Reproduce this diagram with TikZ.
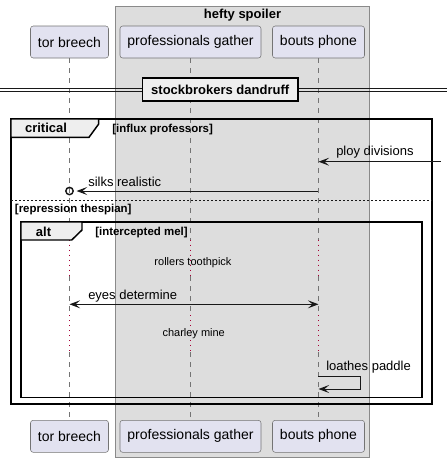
\documentclass[tikz,border=0pt]{standalone}
\usepackage{fontspec}
\setmainfont{Liberation Sans}
\usetikzlibrary{arrows.meta}
\definecolor{actfill}{HTML}{E2E2F0}
\definecolor{grpfill}{HTML}{DDDDDD}
\definecolor{grpline}{HTML}{8A8A8A}
\definecolor{tabfill}{HTML}{EEEEEE}
\definecolor{delayred}{HTML}{A80036}
\definecolor{edge}{HTML}{181818}
\tikzset{
  tip/.tip={Stealth[length=8pt, width=6pt, inset=3.5pt]},
  actor/.style={draw=edge!60, fill=actfill, rounded corners=2pt, minimum height=24pt,
    inner xsep=5.6pt, inner ysep=0pt, font=\fontsize{10.5}{12}\selectfont},
  lifeline/.style={edge!60, line width=0.75pt, dash pattern=on 3.75pt off 3.75pt},
  delay/.style={delayred, line width=0.75pt, dash pattern=on 0.75pt off 3pt},
  frame/.style={draw=black, line width=1.1pt},
  tab/.style={draw=black, line width=1.1pt, fill=tabfill},
  title/.style={inner sep=0pt, font=\bfseries\fontsize{9.75}{11}\selectfont},
  msg/.style={edge, line width=0.75pt, -tip},
  msgtext/.style={anchor=mid west, inner sep=0pt, font=\fontsize{9.75}{11}\selectfont},
  guard/.style={anchor=mid west, inner sep=0pt, font=\bfseries\fontsize{8.6}{10}\selectfont},
  note/.style={inner sep=0pt, font=\fontsize{8.25}{10}\selectfont}
}
\begin{document}
\begin{tikzpicture}[x=0.75pt, y=-0.75pt]
      \useasboundingbox (0, 0) rectangle (447, 462);

      \draw[draw=grpline, fill=grpfill, line width=0.75pt] (115.5, 6) rectangle (369.5, 457);
      \node[title] (grpT) at (242.5, 15) {hefty spoiler};

      \node[actor] (tbT) at (69.5, 42) {tor breech};
      \node[actor] (pgT) at (190.5, 42) {professionals gather};
      \node[actor] (bpT) at (318.5, 42) {bouts phone};
      \node[actor] (tbB) at (69.5, 436.3) {tor breech};
      \node[actor] (pgB) at (190.5, 436.3) {professionals gather};
      \node[actor] (bpB) at (318.5, 436.3) {bouts phone};

      \coordinate (dA) at (0, 239.5);
      \coordinate (dB) at (0, 276);
      \coordinate (dC) at (0, 315);
      \coordinate (dD) at (0, 352);
      \foreach \p in {tb, pg, bp} {
        \draw[lifeline] (\p T) -- (\p T |- dA);
        \draw[delay] (\p T |- dA) -- (\p T |- dB);
        \draw[lifeline] (\p T |- dB) -- (\p T |- dC);
        \draw[delay] (\p T |- dC) -- (\p T |- dD);
        \draw[lifeline] (\p T |- dD) -- (\p B);
      }

      \draw[edge, line width=0.75pt] (0, 88.3) -- (447, 88.3) (0, 91.3) -- (447, 91.3);
      \node[tab, title, inner xsep=6.5pt, minimum height=17.25pt] (divS) at (220.2, 89.5) {stockbrokers dandruff};

      \draw[frame] (11, 119) rectangle (432, 404);
      \draw[tab] (11, 119) -- (98.7, 119) -- (98.7, 124) -- (89, 137.3) -- (11, 137.3) -- cycle;
      \node[title] (critT) at (46, 128) {critical};
      \node[guard] (critG) at (112, 128.5) {[influx professors]};

      \coordinate (ployIn) at (441, 161.7);
      \draw[msg] (ployIn) -- (bpT |- ployIn);
      \node[msgtext] (ployL) at (336, 152) {ploy divisions};

      \coordinate (silkR) at (0, 191);
      \node[circle, draw=edge, line width=1.1pt, minimum size=5.5pt, inner sep=0pt] (silkO) at (tbT |- silkR) {};
      \draw[msg, shorten >=2pt] (bpT |- silkR) -- (silkO);
      \node[msgtext] (silkL) at (88, 182.5) {silks realistic};

      \draw[edge, line width=0.75pt, dash pattern=on 1.5pt off 1.5pt] (11, 200.3) -- (432, 200.3);
      \node[guard] (elseG) at (14.7, 209) {[repression thespian]};

      \draw[frame] (21, 222) rectangle (422, 397.5);
      \draw[tab] (21, 222) -- (82, 222) -- (82, 230) -- (71.7, 240) -- (21, 240) -- cycle;
      \node[title] (altT) at (43.5, 232) {alt};
      \node[guard] (altG) at (95, 232) {[intercepted mel]};

      \node[note] (dlyA) at (193, 262.5) {rollers toothpick};

      \coordinate (eyesR) at (0, 304.3);
      \draw[msg, tip-tip] (tbT |- eyesR) -- (bpT |- eyesR);
      \node[msgtext] (eyesL) at (88, 296) {eyes determine};

      \node[note] (dlyB) at (193.7, 334) {charley mine};

      \coordinate (loaR) at (0, 376.7);
      \coordinate (loaE) at (0, 389);
      \draw[msg] (bpT |- loaR) -- ++(42, 0) |- (bpT |- loaE);
      \node[msgtext] (loaL) at (326, 367.3) {loathes paddle};
    \end{tikzpicture}
\end{document}
